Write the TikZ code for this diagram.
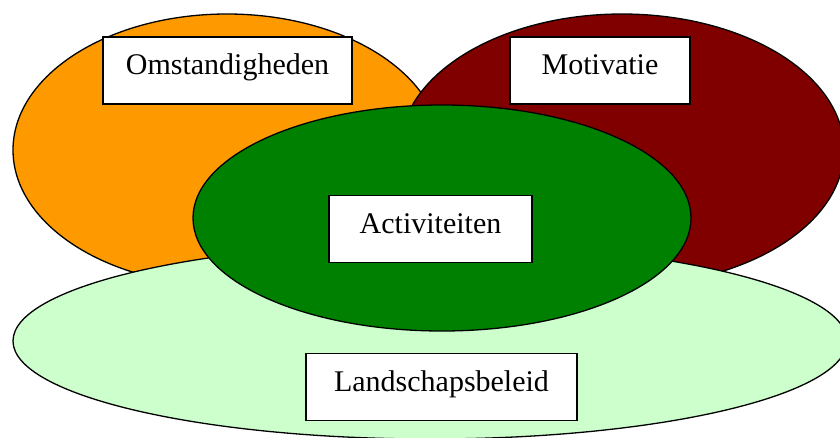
\documentclass[tikz,border=0pt]{standalone}
\usepackage{fontspec}
\setmainfont{Liberation Serif}
\definecolor{orng}{HTML}{FF9900}
\definecolor{dred}{HTML}{800000}
\definecolor{dgrn}{HTML}{008000}
\definecolor{lgrn}{HTML}{CCFFCC}
\tikzset{
  blob/.style={draw=black, line width=1.3pt},
  labelbox/.style={draw=black, fill=white, line width=1.6pt, rectangle, inner sep=0pt,
    text height=38pt, text depth=29pt, align=center,
    font=\fontsize{30}{36}\selectfont}
}
\begin{document}
\begin{tikzpicture}[x=1pt,y=-1pt]
\useasboundingbox (0,0) rectangle (840,438);
\begin{scope}
\clip (0,0) rectangle (840,438);
\filldraw[blob, fill=orng] (227,150) ellipse [x radius=214, y radius=136];
\filldraw[blob, fill=dred] (622,150) ellipse [x radius=222, y radius=136];
\filldraw[blob, fill=lgrn] (430,341) ellipse [x radius=417, y radius=98];
\filldraw[blob, fill=dgrn] (442,218) ellipse [x radius=249, y radius=113];
\end{scope}
\node[labelbox, text width=249pt] (omst) at (227.5,70.5) {Omstandigheden};
\node[labelbox, text width=180pt] (moti) at (600,70.5) {Motivatie};
\node[labelbox, text width=203pt] (acti) at (430.5,229) {Activiteiten};
\node[labelbox, text width=271pt] (land) at (441.5,387) {Landschapsbeleid};
\end{tikzpicture}
\end{document}
